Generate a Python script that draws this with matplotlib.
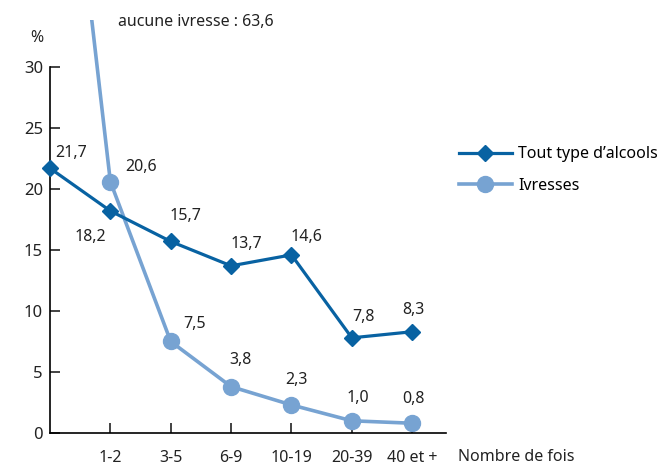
import matplotlib.pyplot as plt

plt.rcParams['font.family'] = ['Noto Sans', 'DejaVu Sans']

# positions: 0 = premier point (sur l'axe), puis les classes
categories = ["", "1-2", "3-5", "6-9", "10-19", "20-39", "40 et +"]
alcools = [21.7, 18.2, 15.7, 13.7, 14.6, 7.8, 8.3]
ivresses = [63.6, 20.6, 7.5, 3.8, 2.3, 1.0, 0.8]
alcools_labels = ["21,7", "18,2", "15,7", "13,7", "14,6", "7,8", "8,3"]
ivresses_labels = ["20,6", "7,5", "3,8", "2,3", "1,0", "0,8"]

dark = '#0862a2'
light = '#77a3d2'
x = list(range(len(categories)))

fig = plt.figure(figsize=(6.72, 4.67), dpi=100)
ax = fig.add_axes([50 / 672, 34 / 467, 396 / 672, 413 / 467])

ax.plot(x, ivresses, color=light, lw=2.6, marker='o', ms=11.5, zorder=2,
        label='Ivresses')
# le premier point (aucune ivresse) sort du cadre
ax.plot(x, alcools, color=dark, lw=2.3, marker='D', ms=8.5, zorder=3,
        clip_on=False, label='Tout type d\u2019alcools')

ax.set_xlim(0, 6.56)
ax.set_ylim(0, 33.85)

fs = 11.5
# etiquettes des valeurs
offs_alc = [(21, 15), (-20, -26), (15, 25), (15, 22), (15, 18), (12, 21), (1, 22)]
for i, (v, t) in enumerate(zip(alcools, alcools_labels)):
    ax.annotate(t, (x[i], v), xytext=(offs_alc[i][0] * 0.72, offs_alc[i][1] * 0.72),
                textcoords='offset points', ha='center', va='center', fontsize=fs,
                color='#222222')
offs_ivr = [(31, 15), (24, 17), (9, 27), (5, 25), (6, 23), (1, 24)]
for i, (v, t) in enumerate(zip(ivresses[1:], ivresses_labels)):
    ax.annotate(t, (x[i + 1], v), xytext=(offs_ivr[i][0] * 0.72, offs_ivr[i][1] * 0.72),
                textcoords='offset points', ha='center', va='center', fontsize=fs,
                color='#222222')

fig.text(118 / 672, 1 - 22 / 467, 'aucune ivresse : 63,6', fontsize=fs,
         ha='left', va='center', color='#222222')
fig.text(37 / 672, 1 - 38 / 467, '%', fontsize=fs, ha='center', va='center',
         color='#222222')
fig.text(458 / 672, 1 - 457 / 467, 'Nombre de fois', fontsize=fs,
         ha='left', va='center', color='#222222')

ax.set_xticks(x[1:])
ax.set_xticklabels(categories[1:])
ax.set_yticks(range(0, 31, 5))
ax.tick_params(axis='x', direction='in', length=7, width=1.2, pad=12,
               labelsize=fs, colors='#222222')
ax.tick_params(axis='y', direction='in', length=7, width=1.2, pad=5,
               labelsize=fs + 0.5, colors='#222222')
for s in ['top', 'right']:
    ax.spines[s].set_visible(False)
ax.spines['left'].set_bounds(0, 30)
ax.spines['left'].set_linewidth(1.2)
ax.spines['bottom'].set_linewidth(1.2)

handles, labels = ax.get_legend_handles_labels()
fig.legend(handles[::-1], labels[::-1], loc='center left',
           bbox_to_anchor=(459 / 672, 1 - 170 / 467), frameon=False,
           borderpad=0, borderaxespad=0,
           fontsize=fs, handlelength=3.3, handletextpad=0.4,
           labelspacing=0.95)

fig.savefig('out.png', dpi=100)
